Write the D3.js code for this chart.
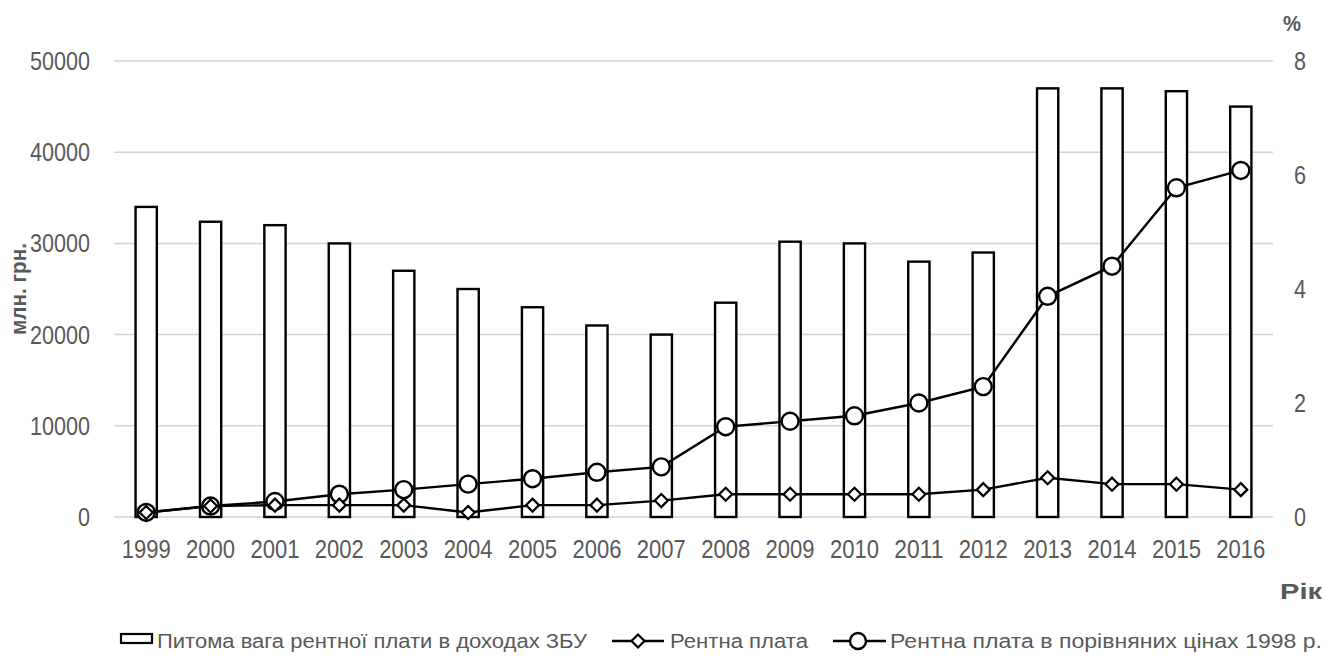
<!DOCTYPE html>
<html>
<head>
<meta charset="utf-8">
<script src="https://cdn.jsdelivr.net/npm/d3@7"></script>
<style>
  html, body { margin: 0; padding: 0; background: #fff; }
  svg { display: block; font-family: "Liberation Sans", Arial, sans-serif; }
</style>
</head>
<body>
<svg id="chart" width="1329" height="660"></svg>
<script>
// Years on the category axis
const years = ["1999","2000","2001","2002","2003","2004","2005","2006","2007",
               "2008","2009","2010","2011","2012","2013","2014","2015","2016"];

// Share of rent payments in consolidated budget revenues, % (right axis)
const rentShare = [5.44, 5.18, 5.12, 4.80, 4.32, 4.00, 3.68, 3.36, 3.20,
                   3.76, 4.83, 4.80, 4.48, 4.64, 7.52, 7.52, 7.47, 7.20];

// Rent payments, million UAH (left axis)
const rentPayment = [500, 1200, 1300, 1300, 1300, 500, 1300, 1300, 1800,
                     2500, 2500, 2500, 2500, 3000, 4300, 3600, 3600, 3000];

// Rent payments in comparable 1998 prices, million UAH (left axis)
const rentComparable = [500, 1200, 1700, 2500, 3000, 3600, 4200, 4900, 5500,
                        9900, 10500, 11100, 12500, 14300, 24200, 27500, 36100, 38000];

// Tick values
const leftTicks = [0, 10000, 20000, 30000, 40000, 50000];
const rightTicks = [0, 2, 4, 6, 8];

// Legend labels and axis titles
const legendLabels = ["Питома вага рентної плати в доходах ЗБУ",
                      "Рентна плата",
                      "Рентна плата в порівняних цінах 1998 р."];
const leftTitle = "млн. грн.";
const rightTitle = "%";
const xTitle = "Рік";

const svg = d3.select("#chart");
const textColor = "#595959";
const gridColor = "#d4d4d4";

const x = d3.scaleBand().domain(years).range([114, 1273])
  .paddingInner(0.67).paddingOuter(0.335);
const yL = d3.scaleLinear().domain([0, 50000]).range([517, 61]);
const yR = d3.scaleLinear().domain([0, 8]).range([517, 61]);
const cx = d => x(d) + x.bandwidth() / 2;

// Horizontal gridlines
svg.append("g").selectAll("line").data(leftTicks).join("line")
  .attr("x1", 114).attr("x2", 1273)
  .attr("y1", d => yL(d)).attr("y2", d => yL(d))
  .attr("stroke", gridColor).attr("stroke-width", 1.5);

// Left axis labels
svg.append("g").selectAll("text").data(leftTicks).join("text")
  .attr("x", 90).attr("y", d => yL(d) + 9)
  .attr("text-anchor", "end")
  .attr("font-size", 25).attr("fill", textColor)
  .attr("textLength", d => String(d).length * 12)
  .attr("lengthAdjust", "spacingAndGlyphs")
  .text(d => d);

// Right axis labels
svg.append("g").selectAll("text").data(rightTicks).join("text")
  .attr("x", 1294).attr("y", d => yR(d) + 9)
  .attr("text-anchor", "start")
  .attr("font-size", 25).attr("fill", textColor)
  .attr("textLength", 12)
  .attr("lengthAdjust", "spacingAndGlyphs")
  .text(d => d);

// Year labels
svg.append("g").selectAll("text").data(years).join("text")
  .attr("x", d => cx(d)).attr("y", 558)
  .attr("text-anchor", "middle")
  .attr("font-size", 25).attr("fill", textColor)
  .attr("textLength", 49)
  .attr("lengthAdjust", "spacingAndGlyphs")
  .text(d => d);

// Axis titles
svg.append("text")
  .attr("transform", "translate(26,289) rotate(-90)")
  .attr("text-anchor", "middle")
  .attr("font-size", 22).attr("font-weight", "bold").attr("fill", textColor)
  .attr("textLength", 92).attr("lengthAdjust", "spacingAndGlyphs")
  .text(leftTitle);

svg.append("text")
  .attr("x", 1292).attr("y", 31)
  .attr("text-anchor", "middle")
  .attr("font-size", 22).attr("font-weight", "bold").attr("fill", textColor)
  .attr("textLength", 18).attr("lengthAdjust", "spacingAndGlyphs")
  .text(rightTitle);

svg.append("text")
  .attr("x", 1322).attr("y", 599)
  .attr("text-anchor", "end")
  .attr("font-size", 22).attr("font-weight", "bold").attr("fill", textColor)
  .attr("textLength", 42).attr("lengthAdjust", "spacingAndGlyphs")
  .text(xTitle);

// Bars: share of rent payments (right axis)
svg.append("g").selectAll("rect").data(years).join("rect")
  .attr("x", d => x(d))
  .attr("y", (d, i) => yR(rentShare[i]))
  .attr("width", x.bandwidth())
  .attr("height", (d, i) => yR(0) - yR(rentShare[i]))
  .attr("fill", "#fff").attr("stroke", "#000").attr("stroke-width", 2.4);

const line = d3.line().x(d => cx(d[0])).y(d => yL(d[1]));

// Comparable-prices series with circle markers
const compData = years.map((y, i) => [y, rentComparable[i]]);
svg.append("path").datum(compData).attr("d", line)
  .attr("fill", "none").attr("stroke", "#000").attr("stroke-width", 2.4);
svg.append("g").selectAll("circle").data(compData).join("circle")
  .attr("cx", d => cx(d[0])).attr("cy", d => yL(d[1])).attr("r", 8.5)
  .attr("fill", "#fff").attr("stroke", "#000").attr("stroke-width", 2.4);

// Nominal rent series with diamond markers
const rentData = years.map((y, i) => [y, rentPayment[i]]);
const diamond = (px, py, s) => `M${px},${py - s}L${px + s},${py}L${px},${py + s}L${px - s},${py}Z`;
svg.append("path").datum(rentData).attr("d", line)
  .attr("fill", "none").attr("stroke", "#000").attr("stroke-width", 2.4);
svg.append("g").selectAll("path").data(rentData).join("path")
  .attr("d", d => diamond(cx(d[0]), yL(d[1]), 6.5))
  .attr("fill", "#fff").attr("stroke", "#000").attr("stroke-width", 2.2);

// Legend
const lg = svg.append("g");
lg.append("rect").attr("x", 121).attr("y", 634).attr("width", 31).attr("height", 9)
  .attr("fill", "#fff").attr("stroke", "#000").attr("stroke-width", 2.2);
lg.append("text").attr("x", 157).attr("y", 648)
  .attr("font-size", 20).attr("fill", textColor)
  .attr("textLength", 430).attr("lengthAdjust", "spacingAndGlyphs")
  .text(legendLabels[0]);

lg.append("line").attr("x1", 612).attr("x2", 664).attr("y1", 641).attr("y2", 641)
  .attr("stroke", "#000").attr("stroke-width", 2.4);
lg.append("path").attr("d", diamond(638, 641, 6.5))
  .attr("fill", "#fff").attr("stroke", "#000").attr("stroke-width", 2.2);
lg.append("text").attr("x", 670).attr("y", 648)
  .attr("font-size", 20).attr("fill", textColor)
  .attr("textLength", 138).attr("lengthAdjust", "spacingAndGlyphs")
  .text(legendLabels[1]);

lg.append("line").attr("x1", 833).attr("x2", 886).attr("y1", 641).attr("y2", 641)
  .attr("stroke", "#000").attr("stroke-width", 2.4);
lg.append("circle").attr("cx", 858).attr("cy", 641).attr("r", 8)
  .attr("fill", "#fff").attr("stroke", "#000").attr("stroke-width", 2.4);
lg.append("text").attr("x", 890).attr("y", 648)
  .attr("font-size", 20).attr("fill", textColor)
  .attr("textLength", 432).attr("lengthAdjust", "spacingAndGlyphs")
  .text(legendLabels[2]);
</script>
</body>
</html>
